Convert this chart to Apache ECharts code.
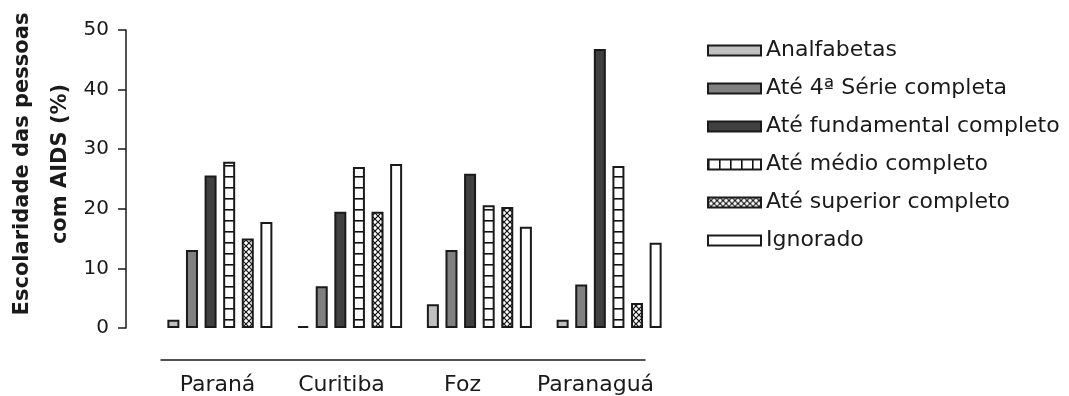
<!DOCTYPE html>
<html>
<head>
<meta charset="utf-8">
<script src="https://cdn.jsdelivr.net/npm/echarts@6/dist/echarts.min.js"></script>
<style>html,body{margin:0;padding:0;background:#fff;}#chart{width:1069px;height:396px;}</style>
</head>
<body>
<div id="chart"></div>
<script>
// ---- data ----
const categories = ['Paraná', 'Curitiba', 'Foz', 'Paranaguá'];
const seriesNames = ['Analfabetas', 'Até 4ª Série completa', 'Até fundamental completo', 'Até médio completo', 'Até superior completo', 'Ignorado'];
const analfabetas = [1.4, 0.3, 4.0, 1.4];
const ate4Serie = [13.1, 7.0, 13.1, 7.3];
const ateFundamental = [25.6, 19.5, 25.9, 46.8];
const ateMedio = [27.9, 27.0, 20.6, 27.2];
const ateSuperior = [15.0, 19.5, 20.3, 4.2];
const ignorado = [17.8, 27.5, 17.0, 14.3];
const yTicks = [0, 10, 20, 30, 40, 50];

// ---- styles ----
const FONT = '"DejaVu Sans", sans-serif';
const INK = '#1a1a1a';
const labelNudge = [-4, -1, -1, 11];

function makePattern(w, h, draw) {
  const c = document.createElement('canvas');
  c.width = w; c.height = h;
  const ctx = c.getContext('2d');
  ctx.fillStyle = '#fff';
  ctx.fillRect(0, 0, w, h);
  ctx.strokeStyle = '#111';
  draw(ctx, w, h);
  return { image: c, repeat: 'repeat' };
}
const hLines = makePattern(8, 11, (ctx, w) => { ctx.lineWidth = 1.6; ctx.beginPath(); ctx.moveTo(0, 0.8); ctx.lineTo(w, 0.8); ctx.stroke(); });
const vLines = makePattern(11, 8, (ctx, w, h) => { ctx.lineWidth = 1.6; ctx.beginPath(); ctx.moveTo(0.8, 0); ctx.lineTo(0.8, h); ctx.stroke(); });
const hatch = makePattern(6, 6, (ctx, w, h) => {
  ctx.lineWidth = 1.2;
  ctx.beginPath();
  ctx.moveTo(0, 0); ctx.lineTo(w, h);
  ctx.moveTo(w, 0); ctx.lineTo(0, h);
  ctx.stroke();
});

const fills = ['#c0c0c0', '#808080', '#404040', hLines, hatch, '#ffffff'];
const legendFills = ['#c0c0c0', '#808080', '#404040', vLines, hatch, '#ffffff'];
const values = [analfabetas, ate4Serie, ateFundamental, ateMedio, ateSuperior, ignorado];

const rich = {};
labelNudge.forEach((n, i) => {
  rich['n' + i] = {
    fontFamily: FONT, fontSize: 22, color: INK,
    padding: n >= 0 ? [0, 0, 0, 2 * n] : [0, -2 * n, 0, 0]
  };
});

const chart = echarts.init(document.getElementById('chart'), null, { renderer: 'canvas' });
chart.setOption({
  animation: false,
  backgroundColor: '#fff',
  grid: [
    { left: 155, right: 395, top: 30, bottom: 68 },
    { left: 161, right: 424, top: 300, bottom: 36 }
  ],
  xAxis: [
    { gridIndex: 0, type: 'category', data: categories, axisLine: { show: false }, axisTick: { show: false }, axisLabel: { show: false } },
    {
      gridIndex: 1, type: 'category', data: categories,
      axisLine: { show: true, lineStyle: { color: INK, width: 1.5 } },
      axisTick: { show: false },
      axisLabel: {
        interval: 0, margin: 14, fontFamily: FONT, fontSize: 22, color: INK,
        formatter: (v, i) => '{n' + i + '|' + v + '}',
        rich: rich
      }
    }
  ],
  yAxis: [
    {
      gridIndex: 0, type: 'value', min: yTicks[0], max: yTicks[yTicks.length - 1], interval: 10,
      offset: 29,
      axisLine: { show: true, lineStyle: { color: INK, width: 1.5 } },
      axisTick: { show: true, length: 8, inside: false, lineStyle: { color: INK, width: 1.5 } },
      axisLabel: { margin: 17, fontFamily: FONT, fontSize: 20, color: INK },
      splitLine: { show: false }
    },
    { gridIndex: 1, type: 'value', show: false }
  ],
  legend: {
    orient: 'vertical', left: 707, top: 39.5, padding: 0,
    itemWidth: 53, itemHeight: 10, itemGap: 16, icon: 'rect',
    selectedMode: false,
    textStyle: { fontFamily: FONT, fontSize: 22, color: INK, lineHeight: 22 },
    itemStyle: { borderColor: INK, borderWidth: 2 },
    data: seriesNames.map((n, i) => ({ name: n, icon: 'rect', itemStyle: { color: legendFills[i], borderColor: INK, borderWidth: 2 } }))
  },
  graphic: [{
    type: 'text', x: 41.5, y: 164, rotation: Math.PI / 2,
    style: {
      text: 'Escolaridade das pessoas\ncom AIDS (%)',
      fontFamily: FONT, fontSize: 21, fontWeight: 'bold', fill: INK,
      align: 'center', verticalAlign: 'middle', lineHeight: 38
    }
  }],
  series: seriesNames.map((n, i) => ({
    name: n, type: 'bar', xAxisIndex: 0, yAxisIndex: 0,
    data: values[i], barWidth: 12, barGap: '55%',
    itemStyle: { color: fills[i], borderColor: INK, borderWidth: 2 }
  }))
});
</script>
</body>
</html>
